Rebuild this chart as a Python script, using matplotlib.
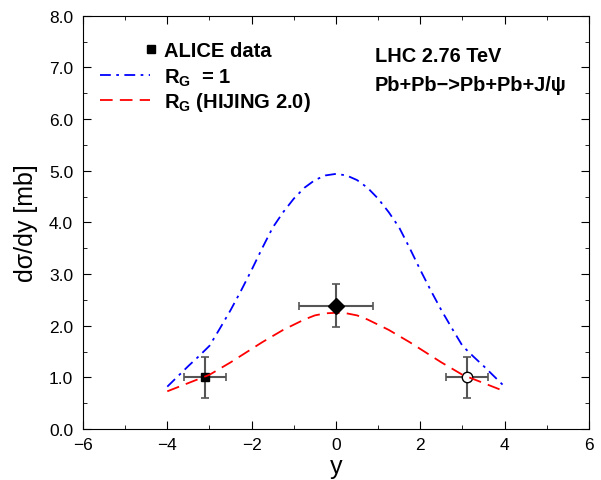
import matplotlib.pyplot as plt
from matplotlib.ticker import MultipleLocator, FormatStrFormatter

plt.rcParams['font.family'] = ['Liberation Sans', 'DejaVu Sans']
plt.rcParams['mathtext.fontset'] = 'custom'
plt.rcParams['mathtext.rm'] = 'Liberation Sans'
plt.rcParams['mathtext.bf'] = 'Liberation Sans:bold'

# curves
y_grid = [-4.0, -3.75, -3.5, -3.25, -3.0, -2.75, -2.5, -2.25, -2.0,
          -1.75, -1.5, -1.25, -1.0, -0.75, -0.5, -0.25, 0.0,
          0.25, 0.5, 0.75, 1.0, 1.25, 1.5, 1.75, 2.0,
          2.25, 2.5, 2.75, 3.0, 3.25, 3.5, 3.75, 4.0]
rg_one = [0.82, 1.02, 1.22, 1.41, 1.61, 1.95, 2.30, 2.68, 3.08,
          3.50, 3.90, 4.20, 4.46, 4.67, 4.82, 4.91, 4.94,
          4.91, 4.82, 4.67, 4.46, 4.20, 3.90, 3.50, 3.08,
          2.68, 2.30, 1.95, 1.61, 1.41, 1.22, 1.02, 0.82]
rg_hijing = [0.73, 0.81, 0.89, 0.97, 1.05, 1.17, 1.29, 1.42, 1.55,
             1.68, 1.80, 1.92, 2.02, 2.12, 2.20, 2.24, 2.25,
             2.24, 2.20, 2.12, 2.02, 1.92, 1.80, 1.68, 1.55,
             1.42, 1.29, 1.17, 1.05, 0.97, 0.89, 0.81, 0.73]

# ALICE points: (y, dsigma/dy, xerr, yerr)
sq_x, sq_y, sq_xe, sq_ye = -3.1, 1.0, 0.5, 0.4
dm_x, dm_y, dm_xe, dm_ye = 0.0, 2.39, 0.88, 0.42
ci_x, ci_y, ci_xe, ci_ye = 3.1, 1.0, 0.5, 0.4

fig = plt.figure(figsize=(6.01, 4.81), dpi=100)
ax = fig.add_axes([0.138, 0.106, 0.842, 0.859])

eb = dict(fmt='none', ecolor='#555555', elinewidth=1.5, capsize=3, capthick=1.2)
ax.errorbar(sq_x, sq_y, xerr=sq_xe, yerr=sq_ye, zorder=1, **eb)
ax.plot(sq_x, sq_y, 's', color='black', markersize=6, zorder=2)
ax.errorbar(dm_x, dm_y, xerr=dm_xe, yerr=dm_ye, zorder=1, **eb)
ax.plot(dm_x, dm_y, 'D', color='black', markersize=8, zorder=4)
ax.errorbar(ci_x, ci_y, xerr=ci_xe, yerr=ci_ye, zorder=1, **eb)
ax.plot(ci_x, ci_y, 'o', markerfacecolor='white', markeredgecolor='black',
        markersize=7.5, markeredgewidth=1.0, zorder=2)

blue_dash = (6, 3, 1.5, 3)
red_dash = (7, 4)
ax.plot(y_grid, rg_one, color='blue', lw=1.3, dashes=blue_dash, zorder=3)
ax.plot(y_grid, rg_hijing, color='red', lw=1.3, dashes=red_dash, zorder=3)

# legend: data marker entry and the two curve entries
h1, = ax.plot([], [], 's', color='black', markersize=6)
h2, = ax.plot([], [], color='blue', lw=1.3, dashes=blue_dash)
h3, = ax.plot([], [], color='red', lw=1.3, dashes=red_dash)
leg1 = ax.legend([h1], ['ALICE data'], loc='upper left',
                 bbox_to_anchor=(0.1186, 0.94), frameon=False,
                 prop={'weight': 'bold', 'size': 14.5}, handlelength=0.8,
                 handletextpad=0.25, borderpad=0, borderaxespad=0)
ax.add_artist(leg1)
ax.legend([h2, h3], [r'$\mathbf{R_G}$  = 1', r'$\mathbf{R_G}$ (HIJING 2.0)'],
          loc='upper left', bbox_to_anchor=(0.0336, 0.878), frameon=False,
          prop={'weight': 'bold', 'size': 14.5}, handlelength=2.49,
          handletextpad=0.7, labelspacing=0.12, borderpad=0, borderaxespad=0)

ax.text(0.577, 0.903, 'LHC 2.76 TeV', transform=ax.transAxes,
        fontsize=14.4, fontweight='bold', va='center')
ax.text(0.577, 0.835, 'Pb+Pb\u2212>Pb+Pb+J/\u03c8', transform=ax.transAxes,
        fontsize=14.4, fontweight='bold', va='center')

ax.set_xlim(-6, 6)
ax.set_ylim(0, 8)
ax.xaxis.set_major_locator(MultipleLocator(2))
ax.xaxis.set_minor_locator(MultipleLocator(1))
ax.yaxis.set_major_locator(MultipleLocator(1))
ax.yaxis.set_minor_locator(MultipleLocator(0.5))
ax.yaxis.set_major_formatter(FormatStrFormatter('%.1f'))
ax.tick_params(which='both', direction='in', top=True, right=True, labelsize=12.5)
ax.tick_params(which='major', length=6)
ax.tick_params(which='minor', length=3)
ax.tick_params(axis='x', pad=6)
ax.tick_params(axis='y', pad=7)

ax.set_xlabel('y', fontsize=18, labelpad=1)
ax.set_ylabel('d\u03c3/dy [mb]', fontsize=18, labelpad=8)

fig.savefig('out.png', dpi=100)
